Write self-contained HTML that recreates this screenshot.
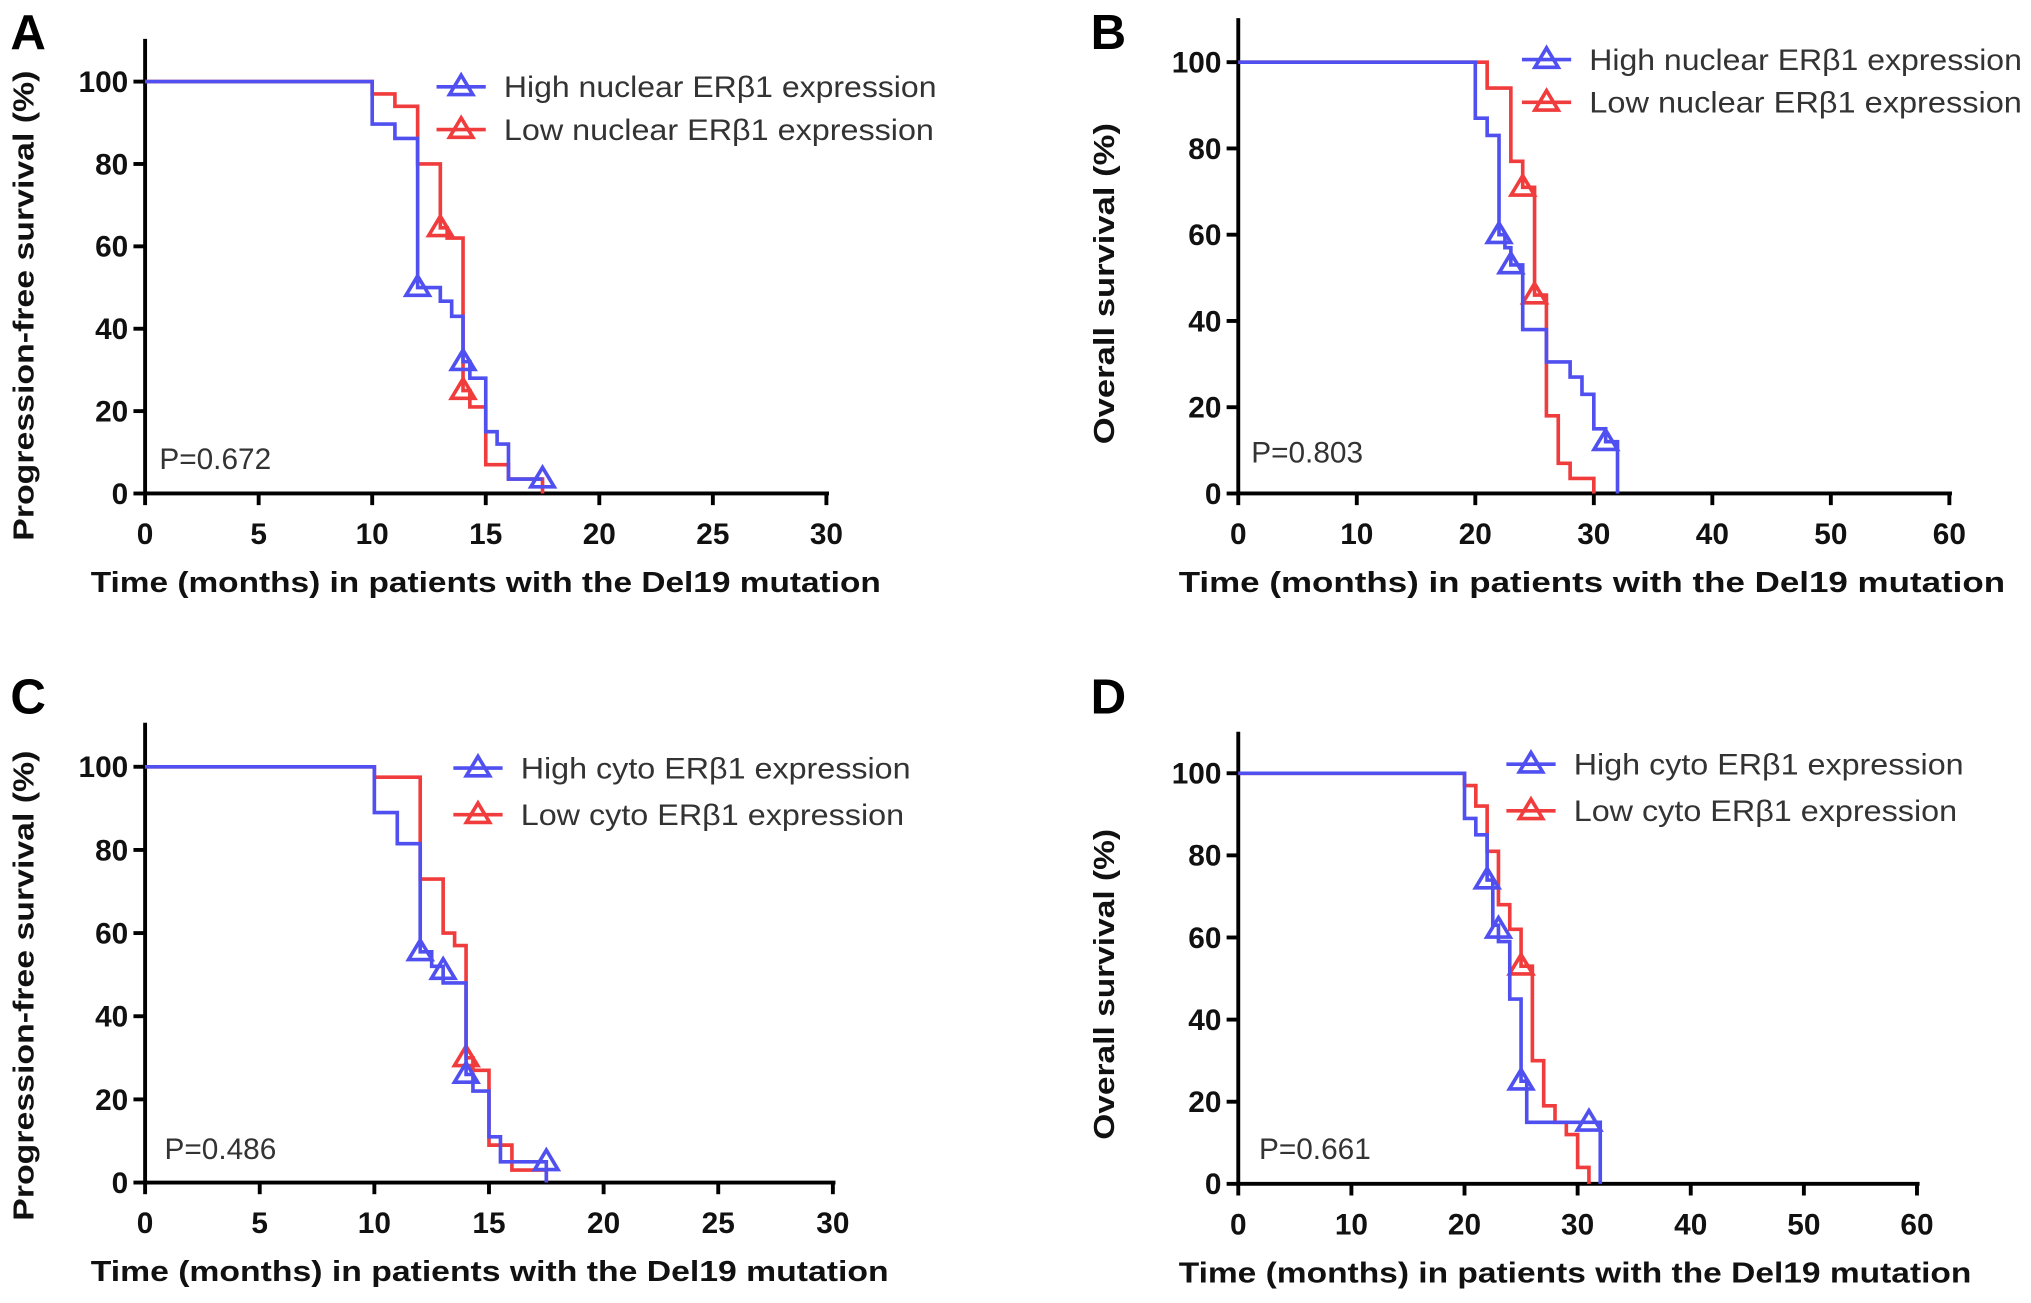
<!DOCTYPE html>
<html><head><meta charset="utf-8"><style>
html,body{margin:0;padding:0;background:#fff;}
svg{display:block;font-family:"Liberation Sans",Arial,sans-serif;}
.tick{font-weight:bold;font-size:23px;fill:#111;}
.title{font-weight:bold;font-size:22px;fill:#111;}
.leg{font-size:23px;fill:#333;}
.pv{font-size:23px;fill:#333;}
.letter{font-weight:bold;font-size:38px;fill:#000;}
</style></head><body>
<svg id="fig" width="2031" height="1303" viewBox="0 0 1568 1006" xmlns="http://www.w3.org/2000/svg"></svg>
<script>
// ---- Data ----
const aHighT=[0,10,11,12,13,13.5,14,14.3,15,15.5,16,17.5];
const aHighS=[100,89.7,86.2,50,46.7,43,32,28,15,12,3.5,3.5];
const aHighCens=[[12,50],[14,32],[17.5,3.5]];
const aLowT=[0,10,11,12,13,13.3,14,14.3,15,16,17.5];
const aLowS=[100,97,94,80,64.5,62,25,21,7,3.5,0];
const aLowCens=[[13,64.5],[14,25]];
const bHighT=[0,20,20.5,21,22,22.5,23,24,26,28,29,30,31,32];
const bHighS=[100,87,87,83,60,57,53,38,30.5,27,23,15,12,0];
const bHighCens=[[22,60],[23,53],[31,12]];
const bLowT=[0,21,23,24,25,26,27,28,30];
const bLowS=[100,94,77,71,46,18,7,3.5,0];
const bLowCens=[[24,71],[25,46]];
const cHighT=[0,10,11,12,12.5,13,14,14.3,15,15.5,17.5];
const cHighS=[100,89,81.5,55.5,52,48,26,22,11,5,0];
const cHighCens=[[12,55.5],[13,51],[14,26],[17.5,5]];
const cLowT=[0,10,12,13,13.5,14,14.3,15,16,17.5];
const cLowS=[100,97.5,73,60,57,30,27,9,3,0];
const cLowCens=[[14,30]];
const dHighT=[0,20,21,22,22.5,23,24,25,25.5,32];
const dHighS=[100,89,85,74,63,59,45,25,15,0];
const dHighCens=[[22,74],[23,62],[25,25],[31,15]];
const dLowT=[0,20,21,22,23,24,25,26,27,28,29,30,31];
const dLowS=[100,97,92,81,68,62,53,30,19,15,12,4,0];
const dLowCens=[[25,53]];
const yTicks=[0,20,40,60,80,100];
const xTicksPFS=[0,5,10,15,20,25,30];
const xTicksOS=[0,10,20,30,40,50,60];
const xTitle="Time (months) in  patients with the Del19 mutation";

const svg=document.getElementById('fig');
const NS="http://www.w3.org/2000/svg";
function mk(tag,attrs,parent){const e=document.createElementNS(NS,tag);for(const k in attrs)e.setAttribute(k,attrs[k]);(parent||svg).appendChild(e);return e;}
const BLUE="#5050f0",RED="#f03c3c";

function panel(p){
  const g=mk('g',{});
  
  
  const xmax=p.xticks[p.xticks.length-1];
  const sx=v=>p.x0+(p.x1-p.x0)*v/xmax;
  const sy=v=>p.y0-(p.y0-p.y100)*v/100;
  const ax=mk('path',{d:`M${p.x0},${p.ytop} V${p.y0} H${p.x1+2}`,stroke:'#000','stroke-width':3,fill:'none'},g);
  
  
  yTicks.forEach(v=>{
    mk('line',{x1:p.x0-9,x2:p.x0,y1:sy(v),y2:sy(v),stroke:'#000','stroke-width':3},g);
    const t=mk('text',{x:p.x0-13,y:sy(v)+8,'text-anchor':'end',class:'tick'},g);t.textContent=v;
    
    
  });
  p.xticks.forEach(v=>{
    mk('line',{x1:sx(v),x2:sx(v),y1:p.y0,y2:p.y0+9,stroke:'#000','stroke-width':3},g);
    const t=mk('text',{x:sx(v),y:p.y0+39,'text-anchor':'middle',class:'tick'},g);t.textContent=v;
    
    
  });
  const yl=mk('text',{transform:`translate(${p.ylx},${p.ylc}) rotate(-90)`,'text-anchor':'middle',class:'title',textLength:p.ylw,lengthAdjust:'spacingAndGlyphs'},g);
  yl.textContent=p.ylabel;
  
  
  const xl=mk('text',{x:p.xlx,y:p.y0+76,'text-anchor':'middle',class:'title',textLength:p.xlw,lengthAdjust:'spacingAndGlyphs'},g);
  xl.textContent=xTitle;
  
  
  const lt=mk('text',{x:p.lx,y:p.ly,class:'letter'},g);lt.textContent=p.id;
  
  
  const pv=mk('text',{x:p.px,y:p.py,class:'pv'},g);pv.textContent=p.pval;
  
  
  function tri(x,y,col,par){return mk('path',{d:`M${x},${y-9} L${x+9},${y+6} L${x-9},${y+6} Z`,stroke:col,'stroke-width':2.8,fill:'none'},par);}
  function series(T,S,cens,col,name){
    let d=`M${sx(T[0])},${sy(S[0])}`;
    for(let i=1;i<T.length;i++){d+=` H${sx(T[i])} V${sy(S[i])}`;}
    const pth=mk('path',{d:d,stroke:col,'stroke-width':2.8,fill:'none'},g);
    
    
    cens.forEach(c=>{const m=tri(sx(c[0]),sy(c[1]),col,g);
      
      });
  }
  series(p.lowT,p.lowS,p.lowC,RED,'low-expression');
  series(p.highT,p.highS,p.highC,BLUE,'high-expression');
  [[p.leg[0],BLUE,p.legY[0],'legend-entry-high',p.legW[0]],[p.leg[1],RED,p.legY[1],'legend-entry-low',p.legW[1]]].forEach(L=>{
    const lg=mk('g',{},g);
    
    
    mk('line',{x1:p.legX,x2:p.legX+38,y1:L[2],y2:L[2],stroke:L[1],'stroke-width':2.8},lg);
    tri(p.legX+19,L[2],L[1],lg);
    const t=mk('text',{x:p.legX+52,y:L[2]+8,class:'leg',textLength:L[4],lengthAdjust:'spacingAndGlyphs'},lg);t.textContent=L[0];
  });
}
panel({id:'A',x0:112,x1:638,y0:381,y100:63,ytop:30,xticks:xTicksPFS,ylabel:'Progression-free survival (%)',ylx:26,ylc:236,ylw:363,xlx:375,xlw:610,
  lx:8,ly:38,px:123,py:362,pval:'P=0.672',legX:337,legY:[67,100],legW:[334,332],leg:['High nuclear ERβ1 expression','Low nuclear ERβ1  expression'],
  highT:aHighT,highS:aHighS,highC:aHighCens,lowT:aLowT,lowS:aLowS,lowC:aLowCens});
panel({id:'B',x0:956,x1:1505,y0:381,y100:48,ytop:14,xticks:xTicksOS,ylabel:'Overall survival (%)',ylx:860,ylc:219,ylw:248,xlx:1229,xlw:638,
  lx:842,ly:38,px:966,py:357,pval:'P=0.803',legX:1175,legY:[46,79],legW:[334,334],leg:['High nuclear ERβ1 expression','Low nuclear ERβ1  expression'],
  highT:bHighT,highS:bHighS,highC:bHighCens,lowT:bLowT,lowS:bLowS,lowC:bLowCens});
panel({id:'C',x0:112,x1:643,y0:913,y100:592,ytop:558,xticks:xTicksPFS,ylabel:'Progression-free survival (%)',ylx:26,ylc:761,ylw:363,xlx:378,xlw:616,
  lx:8,ly:551,px:127,py:895,pval:'P=0.486',legX:350,legY:[593,629],legW:[301,296],leg:['High cyto ERβ1 expression','Low cyto ERβ1 expression'],
  highT:cHighT,highS:cHighS,highC:cHighCens,lowT:cLowT,lowS:cLowS,lowC:cLowCens});
panel({id:'D',x0:956,x1:1480,y0:914,y100:597,ytop:565,xticks:xTicksOS,ylabel:'Overall survival (%)',ylx:860,ylc:760,ylw:240,xlx:1216,xlw:612,
  lx:842,ly:551,px:972,py:895,pval:'P=0.661',legX:1163,legY:[590,626],legW:[301,296],leg:['High cyto ERβ1 expression','Low cyto ERβ1 expression'],
  highT:dHighT,highS:dHighS,highC:dHighCens,lowT:dLowT,lowS:dLowS,lowC:dLowCens});
</script>
</body></html>
